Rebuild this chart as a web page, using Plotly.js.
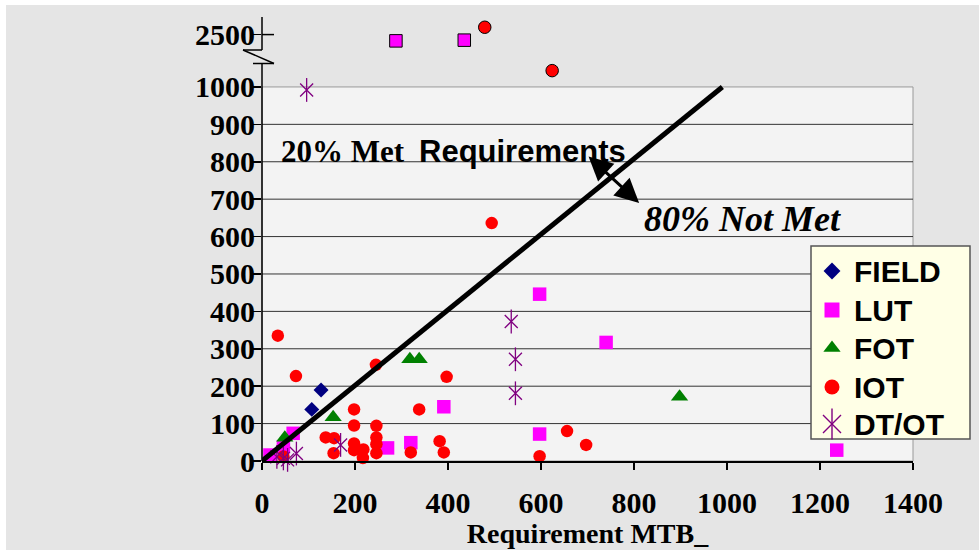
<!DOCTYPE html>
<html>
<head>
<meta charset="utf-8">
<script src="https://cdn.plot.ly/plotly-3.0.1.min.js"></script>
<style>
  html, body { margin: 0; padding: 0; background: #ffffff; }
  #chart { position: absolute; left: 6px; top: 5px; width: 973px; height: 545px; }
</style>
</head>
<body>
<div id="chart"></div>
<script>
// ---- data ----
const seriesNames = ['FIELD', 'LUT', 'FOT', 'IOT', 'DT/OT'];

const fieldX = [107, 127];
const fieldY = [138, 190];

const lutX = [17, 46, 67, 270, 320, 391, 597, 597, 740, 1236, 288, 435];
const lutY = [16, 38, 74, 35, 49, 145, 72, 446, 317, 29, 2320, 2340];

const fotX = [49, 153, 318, 338, 898];
const fotY = [62, 117, 272, 272, 172];

const iotX = [34, 73, 245, 397, 198, 338, 198, 246, 137, 155, 246, 198, 246, 218, 198, 154, 246, 217, 320, 382, 391, 597, 46, 494, 656, 697, 479, 624];
const iotY = [335, 227, 257, 225, 138, 138, 95, 94, 63, 61, 63, 47, 45, 31, 29, 21, 21, 8, 23, 53, 23, 13, 12, 636, 80, 43, 2710, 1467];

const dtotX = [96, 536, 545, 545, 169, 74, 46, 32, 55];
const dtotY = [992, 373, 272, 181, 43, 20, 7, 11, 3];

const lineX = [0, 990];
const lineY = [0, 1000];

const xTicks = [0, 200, 400, 600, 800, 1000, 1200, 1400];
const yTicks = [0, 100, 200, 300, 400, 500, 600, 700, 800, 900, 1000, 2500];

// broken axis: values above 1000 are compressed
const BREAK_AT = 1000;
const BREAK_SCALE = 140 / 1500;
const Y_MAX = 1187;
const ty = v => v <= BREAK_AT ? v : BREAK_AT + (v - BREAK_AT) * BREAK_SCALE;

function split(xs, ys) {
  const lo = {x: [], y: []}, hi = {x: [], y: []};
  xs.forEach((x, i) => {
    const t = ys[i] > BREAK_AT ? hi : lo;
    t.x.push(x); t.y.push(ty(ys[i]));
  });
  return [lo, hi];
}

const [lutLo, lutHi] = split(lutX, lutY);
const [iotLo, iotHi] = split(iotX, iotY);
const [dtLo] = split(dtotX, dtotY);

// plot area geometry (page px)
const PX_L = 262, PX_W = 651, PY_B = 461, PY_H = 444;
const px = p => (p - PX_L) / PX_W;          // page x -> paper
const py = p => (PY_B - p) / PY_H;          // page y -> paper
const dx = p => px(p) * 1400;               // page x -> data x
const dy = p => py(p) * Y_MAX;              // page y -> axis y

// styles per series
const styles = {
  'FIELD': {symbol: 'diamond', size: 11.5, color: '#000080', key: 13},
  'LUT':   {symbol: 'square', size: 13.5, color: '#ff00ff', key: 15},
  'FOT':   {symbol: 'triangle-up', size: 15, color: '#008000', key: 15},
  'IOT':   {symbol: 'circle', size: 12.5, color: '#ff0000', key: 15},
  'DT/OT': {symbol: 'x-thin-open', size: 13, color: '#800080', key: 18}
};

function pts(name, x, y, extra) {
  const s = styles[name];
  const m = {symbol: s.symbol, size: s.size, color: s.color};
  return Object.assign({name: name, x: x, y: y, type: 'scatter', mode: 'markers', cliponaxis: false,
    showlegend: false, marker: m}, extra || {});
}
const purple = styles['DT/OT'].color;

const traces = [
  pts('FIELD', fieldX, fieldY.map(ty)),
  pts('LUT', lutLo.x, lutLo.y),
  pts('FOT', fotX, fotY.map(ty)),
  pts('IOT', iotLo.x, iotLo.y),
  pts('DT/OT', dtLo.x, dtLo.y, {marker: {symbol: 'x-thin-open', size: 13, color: purple, line: {color: purple, width: 1.3}}}),
  pts('DT/OT', dtLo.x, dtLo.y, {marker: {symbol: 'line-ns-open', size: 17, color: purple, line: {color: purple, width: 1.3}}}),
  pts('LUT', lutHi.x, lutHi.y, {marker: {symbol: 'square', size: 12.5, color: '#ff00ff', line: {color: '#000', width: 1}}}),
  pts('IOT', iotHi.x, iotHi.y, {marker: {symbol: 'circle', size: 12.5, color: '#ff0000', line: {color: '#000', width: 1}}}),
  {name: 'boundary', x: lineX, y: lineY, type: 'scatter', mode: 'lines', cliponaxis: false, showlegend: false,
   line: {color: '#000', width: 5}}
];

// custom legend (box + keys + labels)
const LEG = {x0: 811, x1: 970, y0: 246, y1: 439, keyX: 832, textX: 852, rows: [271, 310, 348, 387, 424]};
const legendAnn = [];
seriesNames.forEach((name, i) => {
  const s = styles[name];
  const ky = dy(LEG.rows[i]);
  if (name === 'DT/OT') {
    traces.push({x: [dx(LEG.keyX)], y: [ky], type: 'scatter', mode: 'markers', cliponaxis: false, showlegend: false,
      marker: {symbol: 'x-thin-open', size: s.key, color: purple, line: {color: purple, width: 1.4}}});
    traces.push({x: [dx(LEG.keyX)], y: [ky], type: 'scatter', mode: 'markers', cliponaxis: false, showlegend: false,
      marker: {symbol: 'line-ns-open', size: s.key + 4, color: purple, line: {color: purple, width: 1.4}}});
  } else {
    traces.push({x: [dx(LEG.keyX)], y: [ky], type: 'scatter', mode: 'markers', cliponaxis: false, showlegend: false,
      marker: {symbol: s.symbol, size: s.key, color: s.color}});
  }
  legendAnn.push({xref: 'paper', yref: 'paper', x: px(LEG.textX), y: py(LEG.rows[i]), xanchor: 'left', yanchor: 'middle',
    showarrow: false, text: name, font: {family: 'Liberation Sans', weight: 'bold', size: 30, color: '#000'}});
});

const shapes = [
  {type: 'rect', xref: 'paper', yref: 'paper', x0: 0, x1: 1, y0: 0, y1: BREAK_AT / Y_MAX, layer: 'below',
   fillcolor: '#f3f3f3', line: {color: '#999', width: 1}}
];
yTicks.filter(v => v > 0 && v < 1000).forEach(v => {
  shapes.push({type: 'line', xref: 'paper', yref: 'y', x0: 0, x1: 1, y0: v, y1: v, layer: 'below',
    line: {color: '#333', width: 1}});
});
shapes.push({type: 'rect', xref: 'paper', yref: 'paper', x0: px(LEG.x0), x1: px(LEG.x1), y0: py(LEG.y1), y1: py(LEG.y0),
  layer: 'below', fillcolor: '#ffffe6', line: {color: '#555', width: 1.5}});
// y axis line with break
const blk = {color: '#000', width: 1.5};
shapes.push({type: 'line', xref: 'paper', yref: 'paper', x0: 0, x1: 0, y0: 0, y1: py(63.5), line: blk});
shapes.push({type: 'line', xref: 'paper', yref: 'paper', x0: 0, x1: 0, y0: py(50), y1: 1, line: blk});
shapes.push({type: 'line', xref: 'paper', yref: 'paper', x0: px(243), x1: 0, y0: py(50), y1: py(50), line: blk});
shapes.push({type: 'line', xref: 'paper', yref: 'paper', x0: px(243), x1: px(274), y0: py(50), y1: py(63.5), line: blk});
shapes.push({type: 'line', xref: 'paper', yref: 'paper', x0: px(253), x1: px(274), y0: py(63.5), y1: py(63.5), line: blk});
shapes.push({type: 'line', xref: 'paper', yref: 'y', x0: 0, x1: px(274), y0: ty(2500), y1: ty(2500), line: blk});

const serifB = {family: 'Liberation Serif', weight: 'bold', color: '#000'};

const layout = {
  width: 973, height: 545,
  margin: {l: 256, r: 66, t: 12, b: 89, pad: 0},
  paper_bgcolor: '#e5e5e5',
  plot_bgcolor: 'rgba(0,0,0,0)',
  showlegend: false,
  xaxis: {
    range: [0, 1400], tickvals: xTicks, ticktext: xTicks.map(String),
    showgrid: false, zeroline: false, showline: true, linecolor: '#000', linewidth: 1.5,
    ticks: 'outside', ticklen: 7, tickwidth: 1.5, tickcolor: '#000',
    ticklabelstandoff: 7,
    tickfont: Object.assign({size: 30}, serifB),
    title: {text: 'Requirement MTB_', font: Object.assign({size: 28}, serifB), standoff: 0},
    automargin: false
  },
  yaxis: {
    range: [0, Y_MAX], tickvals: yTicks.map(ty), ticktext: yTicks.map(String),
    showgrid: false, zeroline: false, showline: false,
    ticks: 'outside', ticklen: 8, tickwidth: 1.5, tickcolor: '#000',
    ticklabelstandoff: -8,
    tickfont: Object.assign({size: 30}, serifB),
    automargin: false
  },
  shapes: shapes,
  annotations: [
    {xref: 'x', yref: 'y', x: 36.6, y: 827, xanchor: 'left', yanchor: 'middle', showarrow: false,
     text: '20% Met', font: Object.assign({size: 31}, serifB)},
    {xref: 'x', yref: 'y', x: 333, y: 827, xanchor: 'left', yanchor: 'middle', showarrow: false,
     text: 'Requirements', font: {family: 'Liberation Sans', weight: 'bold', size: 31, color: '#000'}},
    {xref: 'x', yref: 'y', x: 817, y: 647, xanchor: 'left', yanchor: 'middle', showarrow: false,
     text: '80% Not Met', font: {family: 'Liberation Serif', weight: 'bold', style: 'italic', size: 36, color: '#000'}},
    {xref: 'x', yref: 'y', x: 811, y: 690, axref: 'x', ayref: 'y', ax: 699, ay: 818, text: '',
     showarrow: true, arrowside: 'end+start', arrowhead: 2, arrowsize: 1.6, arrowwidth: 3, arrowcolor: '#000',
     standoff: 0, startstandoff: 0}
  ].concat(legendAnn)
};

Plotly.newPlot('chart', traces, layout, {displayModeBar: false, staticPlot: true});
</script>
</body>
</html>
